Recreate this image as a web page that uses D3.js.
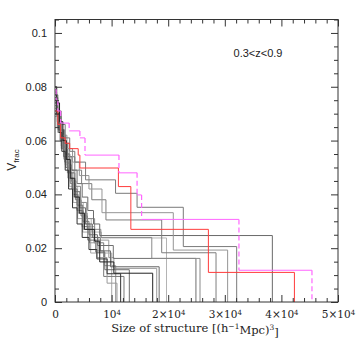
<!DOCTYPE html>
<html>
<head>
<meta charset="utf-8">
<script src="https://cdn.jsdelivr.net/npm/d3@7"></script>
<style>
  body { margin: 0; background: #fff; }
  svg { display: block; }
</style>
</head>
<body>
<div id="chart"></div>
<script>
// axis ticks
const xMajor = [0, 10000, 20000, 30000, 40000, 50000];
const xTickLabels = ["0", "10^4", "2×10^4", "3×10^4", "4×10^4", "5×10^4"];
const yMajor = [0, 0.02, 0.04, 0.06, 0.08, 0.1];
const yTickLabels = ["0", "0.02", "0.04", "0.06", "0.08", "0.1"];

// step curves: [size, Vfrac] ; the last point is where the curve drops to 0
const magenta = [[0, 0.079], [200, 0.075], [500, 0.071], [1000, 0.0665], [2500, 0.0636], [4400, 0.061],
  [5300, 0.0546], [11300, 0.048], [14500, 0.0398], [15300, 0.0307], [32500, 0.0118], [45400, 0]];
const red = [[0, 0.071], [500, 0.066], [1000, 0.061], [1800, 0.059], [2600, 0.057], [4100, 0.0546],
  [4400, 0.0498], [11200, 0.0429], [13400, 0.027], [27100, 0.011], [42300, 0]];

const grayA = [[0, 0.077], [500, 0.071], [1100, 0.066], [1800, 0.061], [2600, 0.056], [3500, 0.052],
  [5400, 0.0454], [10700, 0.0404], [14500, 0.0352], [22670, 0.0206], [32100, 0]];
const grayB = [[0, 0.072], [600, 0.067], [1300, 0.062], [2100, 0.057], [3100, 0.052], [4300, 0.047],
  [6000, 0.042], [8300, 0.0332], [20900, 0.0193], [30500, 0]];
const grayC = [[0, 0.075], [400, 0.07], [1000, 0.064], [1700, 0.059], [2500, 0.054], [3500, 0.049],
  [4700, 0.044], [6500, 0.038], [9000, 0.0305], [18850, 0.0183], [28450, 0]];
const grayD = [[0, 0.074], [400, 0.069], [900, 0.064], [1500, 0.059], [2200, 0.054], [3000, 0.049],
  [3900, 0.044], [4800, 0.039], [5800, 0.034], [6800, 0.029], [7900, 0.0247], [38400, 0]];
const grayE = [[0, 0.073], [500, 0.067], [1100, 0.061], [1800, 0.055], [2600, 0.049], [3500, 0.043],
  [4500, 0.037], [5600, 0.031], [7000, 0.027], [8100, 0.024], [17100, 0.0162], [25620, 0]];
const grayF = [[0, 0.07], [400, 0.065], [900, 0.06], [1500, 0.054], [2200, 0.048], [3000, 0.042],
  [3900, 0.036], [4900, 0.03], [6000, 0.025], [7500, 0.021], [10300, 0.0162], [24900, 0]];
const grayG = [[0, 0.076], [500, 0.069], [1100, 0.062], [1800, 0.055], [2600, 0.048], [3500, 0.041],
  [4400, 0.035], [5400, 0.029], [6600, 0.024], [8000, 0.019], [9800, 0.0131], [18400, 0]];
const grayH = [[0, 0.069], [500, 0.063], [1100, 0.057], [1800, 0.051], [2500, 0.045], [3300, 0.039],
  [4100, 0.033], [5000, 0.027], [6100, 0.022], [7400, 0.0165], [9200, 0.007], [10950, 0]];
const grayI = [[0, 0.074], [400, 0.067], [1000, 0.06], [1600, 0.053], [2300, 0.046], [3100, 0.04],
  [3900, 0.034], [4800, 0.028], [5800, 0.023], [7200, 0.0185], [8800, 0.012], [13130, 0]];
const grayJ = [[0, 0.071], [600, 0.064], [1200, 0.057], [1900, 0.05], [2700, 0.044], [3600, 0.038],
  [4600, 0.032], [5700, 0.027], [6900, 0.022], [8600, 0.0095], [12190, 0]];
const grayK = [[0, 0.078], [300, 0.071], [800, 0.064], [1300, 0.057], [1900, 0.05], [2500, 0.043],
  [3200, 0.037], [4000, 0.031], [4900, 0.026], [6300, 0.0182], [10020, 0]];
const grayL = [[0, 0.07], [500, 0.064], [1100, 0.058], [1700, 0.052], [2400, 0.046], [3200, 0.04],
  [4100, 0.034], [5000, 0.029], [6200, 0.024], [7600, 0.019], [8700, 0.0135], [10730, 0]];
const grayM = [[0, 0.073], [450, 0.067], [1000, 0.061], [1700, 0.055], [2400, 0.049], [3200, 0.043],
  [4000, 0.037], [5000, 0.031], [6400, 0.026], [8200, 0.0238], [19700, 0]];
const grayN = [[0, 0.075], [350, 0.069], [900, 0.063], [1500, 0.057], [2100, 0.051], [2900, 0.045],
  [3700, 0.039], [4600, 0.033], [5700, 0.028], [7000, 0.023], [9500, 0.0165], [10400, 0.0125], [17970, 0]];
const blackA = [[0, 0.08], [300, 0.074], [800, 0.067], [1400, 0.06], [2000, 0.053], [2700, 0.046],
  [3500, 0.039], [4300, 0.033], [5200, 0.027], [7000, 0.0226], [7900, 0.0149], [10400, 0.0107], [17260, 0]];
const blackB = [[0, 0.077], [300, 0.07], [700, 0.063], [1200, 0.056], [1800, 0.049], [2400, 0.042],
  [3100, 0.035], [3900, 0.029], [4800, 0.024], [6000, 0.0195], [7400, 0.016], [9200, 0.0105], [11600, 0]];

const series = [
  {pts: grayN, color: "#9a9a9a"},
  {pts: grayM, color: "#b4b4b4"},
  {pts: grayL, color: "#8c8c8c"},
  {pts: grayK, color: "#a8a8a8"},
  {pts: grayJ, color: "#7a7a7a"},
  {pts: grayI, color: "#6e6e6e"},
  {pts: grayH, color: "#9a9a9a"},
  {pts: grayG, color: "#6a6a6a"},
  {pts: grayF, color: "#707070"},
  {pts: grayE, color: "#8a8a8a"},
  {pts: grayD, color: "#6a6a6a"},
  {pts: grayC, color: "#7e7e7e"},
  {pts: grayB, color: "#959595"},
  {pts: grayA, color: "#7a7a7a"},
  {pts: blackA, color: "#222"},
  {pts: blackB, color: "#333"},
  {pts: red, color: "#ff3b3b"}
];

const W = 357, H = 357;
const m = {left: 55, right: 19, top: 19.5, bottom: 55};

const svg = d3.select("#chart").append("svg").attr("width", W).attr("height", H);

const x = d3.scaleLinear().domain([0, 50000]).range([m.left, W - m.right]);
const y = d3.scaleLinear().domain([0, 0.105]).range([H - m.bottom, m.top]);

svg.append("clipPath").attr("id", "plot")
  .append("rect")
  .attr("x", m.left).attr("y", m.top)
  .attr("width", W - m.left - m.right).attr("height", H - m.top - m.bottom);

const line = d3.line()
  .x(d => x(d[0]))
  .y(d => y(d[1]))
  .curve(d3.curveStepAfter);

const plot = svg.append("g").attr("clip-path", "url(#plot)");

plot.selectAll("path.curve")
  .data(series)
  .join("path")
  .attr("class", "curve")
  .attr("d", d => line(d.pts))
  .attr("fill", "none")
  .attr("stroke", d => d.color)
  .attr("stroke-width", 1);

// magenta: flat parts solid, drops dashed (as in the plot)
const flats = d3.pairs(magenta).map(([a, b]) => [[a[0], a[1]], [b[0], a[1]]]);
const drops = d3.pairs(magenta).map(([a, b]) => [[b[0], a[1]], [b[0], b[1]]]);
const seg = d3.line().x(d => x(d[0])).y(d => y(d[1]));
plot.selectAll("path.mflat")
  .data(flats).join("path").attr("class", "mflat")
  .attr("d", seg).attr("fill", "none")
  .attr("stroke", "#ff66ff").attr("stroke-width", 1);
plot.selectAll("path.mdrop")
  .data(drops).join("path").attr("class", "mdrop")
  .attr("d", seg).attr("fill", "none")
  .attr("stroke", "#ff66ff").attr("stroke-width", 1.2)
  .attr("stroke-dasharray", "5,3");

// ticks on all four sides, pointing in
const xMinor = d3.range(0, 50001, 2000).filter(v => !xMajor.includes(v));
const yMinor = d3.range(0, 0.1051, 0.005).filter(v => !yMajor.some(t => Math.abs(t - v) < 1e-9));

function tickAxis(axisFn, scale, values, size, transform) {
  svg.append("g")
    .attr("transform", transform)
    .call(axisFn(scale).tickValues(values).tickSize(size).tickFormat(""))
    .call(g => g.select(".domain").remove())
    .call(g => g.selectAll("line").attr("stroke", "#333"));
}
const bottomY = H - m.bottom, rightX = W - m.right;
tickAxis(d3.axisBottom, x, xMajor, -7, `translate(0,${bottomY})`);
tickAxis(d3.axisBottom, x, xMinor, -4, `translate(0,${bottomY})`);
tickAxis(d3.axisTop, x, xMajor, -7, `translate(0,${m.top})`);
tickAxis(d3.axisTop, x, xMinor, -4, `translate(0,${m.top})`);
tickAxis(d3.axisLeft, y, yMajor, -7, `translate(${m.left},0)`);
tickAxis(d3.axisLeft, y, yMinor, -4, `translate(${m.left},0)`);
tickAxis(d3.axisRight, y, yMajor, -7, `translate(${rightX},0)`);
tickAxis(d3.axisRight, y, yMinor, -4, `translate(${rightX},0)`);

svg.append("rect")
  .attr("x", m.left).attr("y", m.top)
  .attr("width", rightX - m.left).attr("height", bottomY - m.top)
  .attr("fill", "none").attr("stroke", "#333").attr("stroke-width", 1);

// tick labels
svg.append("g")
  .attr("transform", `translate(0,${bottomY})`)
  .call(d3.axisBottom(x).tickValues(xMajor).tickSize(0).tickPadding(9)
    .tickFormat(d => xTickLabels[xMajor.indexOf(d)]))
  .call(g => g.select(".domain").remove())
  .call(g => g.selectAll(".tick text")
    .attr("font-family", "DejaVu Serif")
    .attr("font-size", 10.5)
    .attr("fill", "#222")
    .each(function(d) {
      const parts = xTickLabels[xMajor.indexOf(d)].split("^");
      const t = d3.select(this).text(parts[0]);
      if (parts[1]) {
        t.append("tspan").attr("dy", "-0.45em").attr("font-size", 7).text(parts[1]);
      }
    }));

svg.append("g")
  .attr("transform", `translate(${m.left},0)`)
  .call(d3.axisLeft(y).tickValues(yMajor).tickSize(0).tickPadding(8)
    .tickFormat(d => yTickLabels[yMajor.indexOf(d)]))
  .call(g => g.select(".domain").remove())
  .call(g => g.selectAll(".tick text")
    .attr("font-family", "Liberation Sans, Arial, sans-serif")
    .attr("font-size", 11)
    .attr("fill", "#222"));

// axis titles
const xt = svg.append("text")
  .attr("x", 195).attr("y", 332)
  .attr("text-anchor", "middle")
  .attr("font-family", "DejaVu Serif")
  .attr("font-size", 11.5)
  .attr("fill", "#222");
xt.append("tspan").text("Size of structure [(h");
xt.append("tspan").attr("dy", "-0.45em").attr("font-size", 7.5).text("−1");
xt.append("tspan").attr("dy", "0.45em").text("Mpc)");
xt.append("tspan").attr("dy", "-0.45em").attr("font-size", 7.5).text("3");
xt.append("tspan").attr("dy", "0.45em").text("]");

const yt = svg.append("text")
  .attr("transform", "translate(16,160) rotate(-90)")
  .attr("text-anchor", "middle")
  .attr("font-family", "Liberation Sans, Arial, sans-serif")
  .attr("font-size", 12)
  .attr("fill", "#222");
yt.append("tspan").text("V");
yt.append("tspan").attr("dy", "0.35em").attr("font-size", 8).text("frac");

svg.append("text")
  .attr("x", 258).attr("y", 57)
  .attr("text-anchor", "middle")
  .attr("font-family", "Liberation Sans, Arial, sans-serif")
  .attr("font-size", 11)
  .attr("fill", "#222")
  .text("0.3<z<0.9");
</script>
</body>
</html>
